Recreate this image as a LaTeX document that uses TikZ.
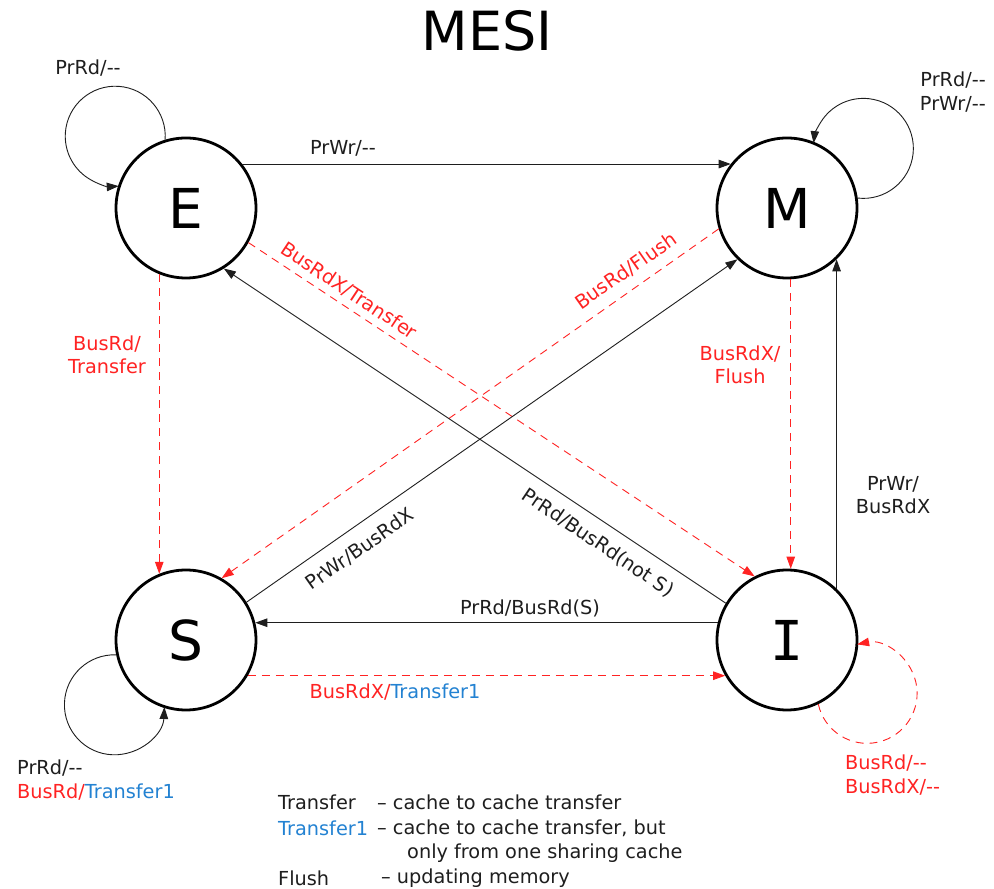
\documentclass[tikz,border=0pt]{standalone}
\usepackage{fontspec}
\setmainfont{DejaVu Sans}
\newfontfamily\serifI{DejaVu Sans Mono}
\usetikzlibrary{arrows.meta}
\definecolor{myred}{RGB}{255,35,35}
\definecolor{myblue}{RGB}{35,130,210}
\definecolor{ink}{RGB}{30,30,30}
\newcommand{\dd}{-{}-}
\tikzset{
  state/.style={circle, draw=black, line width=2.8pt, minimum size=140pt, inner sep=0pt, font=\fontsize{55}{60}\selectfont},
  tr/.style={draw=ink, line width=0.9pt, -{Triangle[length=12pt,width=8.5pt]}},
  rtr/.style={draw=myred, line width=0.9pt, dash pattern=on 8pt off 6pt, -{Triangle[length=12pt,width=8.5pt]}},
  lbl/.style={font=\fontsize{19.3}{23.5}\selectfont, text=ink, inner sep=0pt},
  rlbl/.style={lbl, text=myred},
}
\begin{document}
\begin{tikzpicture}[x=1pt,y=1pt]
\useasboundingbox[fill=white] (0,0) rectangle (994,889);
\node[font=\fontsize{54}{60}\selectfont, text=black, inner sep=0pt] (title) at (487,858) {MESI};

\node[state] (E) at (186,681) {E};
\node[state] (M) at (787,681) {M};
\node[state] (S) at (186,249) {S};
\node[state] (I) at (787,249) {\serifI I};

% straight transitions
\draw[tr] (E.38) -- (M.142);
\draw[rtr] (E.248) -- (S.112);
\draw[rtr] (M.273) -- (I.87);
\draw[tr] (I.46) -- (M.314);
\draw[tr] (I.166) -- (S.14);
\draw[rtr] (S.330) -- (I.210);
\draw[rtr] (E.331) -- (I.117);
\draw[rtr] (M.197) -- (S.60);
\draw[tr] (S.32) -- (M.226);
\draw[tr] (I.149) -- (E.302);

% loops
\draw[tr] (E.107) arc[start angle=-4, end angle=274, radius=50pt];
\draw[tr] (M.8.5) arc[start angle=263.5, end angle=534, radius=50pt];
\draw[tr] (S.192) arc[start angle=88, end angle=357.5, radius=50pt];
\draw[rtr] (I.296) arc[start angle=192.5, end angle=461.5, radius=50pt];

% labels
\node[lbl] (lE) at (88,821) {PrRd/\dd};
\node[lbl, align=right, anchor=east] (lM) at (986,797) {PrRd/\dd\\PrWr/\dd};
\node[lbl, align=left, anchor=west] (lS) at (17,109) {PrRd/\dd\\\textcolor{myred}{BusRd/}\textcolor{myblue}{Transfer1}};
\node[rlbl, align=left, anchor=west] (lI) at (845,114) {BusRd/\dd\\BusRdX/\dd};

\node[lbl] (lEM) at (343,741) {PrWr/\dd};
\node[rlbl, align=center] (lES) at (107,534) {BusRd/\\Transfer};
\node[rlbl, align=center] (lMI) at (740,524) {BusRdX/\\Flush};
\node[lbl, align=center] (lIM) at (893,394) {PrWr/\\BusRdX};
\node[lbl] (lIS) at (530,281) {PrRd/BusRd(S)};
\node[rlbl] (lSI) at (395,197) {BusRdX/\textcolor{myblue}{Transfer1}};
\node[rlbl, rotate=-33.5] (lEI) at (349,598) {BusRdX/Transfer};
\node[rlbl, rotate=35] (lMS) at (626,618) {BusRd/Flush};
\node[lbl, rotate=35] (lSM) at (360,340) {PrWr/BusRdX};
\node[lbl, rotate=-34] (lIE) at (598,346) {PrRd/BusRd(not S)};

% legend
\node[lbl, anchor=west] (k1) at (278,87) {Transfer};
\node[lbl, anchor=west] (v1) at (377,87) {– cache to cache transfer};
\node[lbl, anchor=west, text=myblue] (k2) at (278,61) {Transfer1};
\node[lbl, anchor=west] (v2) at (377,61) {– cache to cache transfer, but};
\node[lbl, anchor=west] (v3) at (407,36) {only from one sharing cache};
\node[lbl, anchor=west] (k4) at (278,11) {Flush};
\node[lbl, anchor=west] (v4) at (381,11) {– updating memory};
\end{tikzpicture}
\end{document}
